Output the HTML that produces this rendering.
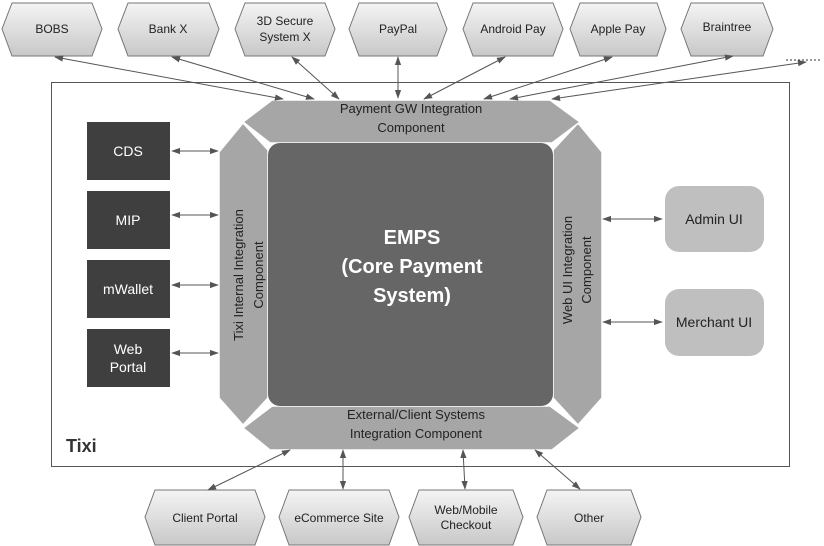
<!DOCTYPE html>
<html><head><meta charset="utf-8"><style>
body{margin:0;background:#fff;}
svg{display:block;font-family:"Liberation Sans",Calibri,sans-serif;}
</style></head><body>
<svg width="824" height="546" viewBox="0 0 824 546" xmlns="http://www.w3.org/2000/svg">
<defs>
<linearGradient id="g" x1="0" y1="0" x2="0" y2="1"><stop offset="0" stop-color="#f4f4f4"/><stop offset="1" stop-color="#c8c8c8"/></linearGradient>
<marker id="a" viewBox="0 0 10 10" refX="9" refY="5" markerWidth="9" markerHeight="9" orient="auto-start-reverse"><path d="M0,1.5 L10,5 L0,8.5 z" fill="#555"/></marker>
</defs>
<rect width="824" height="546" fill="#fff"/>
<rect x="51.5" y="82.5" width="738" height="384" fill="none" stroke="#555" stroke-width="1"/>
<g stroke="#777" stroke-width="1" fill="url(#g)">
<polygon points="12,3 92,3 102,29 92,56 12,56 2,29"/>
<polygon points="128,3 209,3 219,29 209,56 128,56 118,29"/>
<polygon points="245,3 325,3 335,29 325,56 245,56 235,29"/>
<polygon points="359,3 437,3 447,29 437,56 359,56 349,29"/>
<polygon points="473,3 553,3 563,29 553,56 473,56 463,29"/>
<polygon points="580,3 657,3 666,29 657,56 580,56 570,29"/>
<polygon points="691,3 763,3 773,29 763,56 691,56 681,29"/>
<polygon points="155,490 255,490 265,517 255,545 155,545 145,517"/>
<polygon points="289,490 389,490 399,517 389,545 289,545 279,517"/>
<polygon points="419,490 513,490 523,517 513,545 419,545 409,517"/>
<polygon points="547,490 631,490 641,517 631,545 547,545 537,517"/>
</g>
<g font-size="12" fill="#222" text-anchor="middle">
<text x="52" y="33">BOBS</text>
<text x="168" y="33">Bank X</text>
<text x="285" y="25">3D Secure</text><text x="285" y="41">System X</text>
<text x="398" y="33">PayPal</text>
<text x="513" y="33">Android Pay</text>
<text x="618" y="33">Apple Pay</text>
<text x="727" y="31">Braintree</text>
<text x="205" y="522">Client Portal</text>
<text x="339" y="522">eCommerce Site</text>
<text x="466" y="514">Web/Mobile</text><text x="466" y="529">Checkout</text>
<text x="589" y="522">Other</text>
</g>
<line x1="786" y1="60" x2="822" y2="60" stroke="#333" stroke-dasharray="2,2"/>
<g fill="#a6a6a6" stroke="#fff" stroke-width="1.5">
<polygon points="243,123 268,150 268,398 243,425 219,398 219,152"/>
<polygon points="578,123 602,152 602,398 578,425 553,398 553,150"/>
<polygon points="272,100 550,100 580,122 552,143 270,143 243,122"/>
<polygon points="272,406 550,406 580,428 552,450 270,450 243,428"/>
</g>
<rect x="268" y="143" width="285" height="263" rx="12" fill="#666"/>
<g font-size="13" fill="#222" text-anchor="middle">
<text x="411" y="113">Payment GW Integration</text><text x="411" y="132">Component</text>
<text x="416" y="419">External/Client Systems</text><text x="416" y="438">Integration Component</text>
<text transform="translate(243,275) rotate(-90)" x="0" y="0">Tixi Internal Integration</text>
<text transform="translate(263,275) rotate(-90)" x="0" y="0">Component</text>
<text transform="translate(572,270) rotate(-90)" x="0" y="0">Web UI Integration</text>
<text transform="translate(591,270) rotate(-90)" x="0" y="0">Component</text>
</g>
<g font-size="20" font-weight="bold" fill="#fff" text-anchor="middle">
<text x="412" y="244">EMPS</text><text x="412" y="273">(Core Payment</text><text x="412" y="302">System)</text>
</g>
<g fill="#3f3f3f">
<rect x="87" y="122" width="83" height="58"/><rect x="87" y="191" width="83" height="58"/>
<rect x="87" y="260" width="83" height="58"/><rect x="87" y="329" width="83" height="58"/>
</g>
<g font-size="14" fill="#fff" text-anchor="middle">
<text x="128" y="156">CDS</text><text x="128" y="225">MIP</text><text x="128" y="294">mWallet</text>
<text x="128" y="354">Web</text><text x="128" y="372">Portal</text>
</g>
<rect x="665" y="186" width="99" height="66" rx="14" fill="#bfbfbf"/>
<rect x="665" y="289" width="99" height="67" rx="14" fill="#bfbfbf"/>
<g font-size="14" fill="#222" text-anchor="middle"><text x="714" y="224">Admin UI</text><text x="714" y="327">Merchant UI</text></g>
<text x="66" y="452" font-size="18" font-weight="bold" fill="#333">Tixi</text>
<g stroke="#555" stroke-width="1" marker-start="url(#a)" marker-end="url(#a)" fill="none">
<line x1="55" y1="57" x2="283" y2="99"/>
<line x1="172" y1="57" x2="314" y2="99"/>
<line x1="292" y1="57" x2="339" y2="99"/>
<line x1="398" y1="57" x2="398" y2="98"/>
<line x1="505" y1="57" x2="424" y2="99"/>
<line x1="612" y1="57" x2="484" y2="99"/>
<line x1="733" y1="56" x2="510" y2="99"/>
<line x1="806" y1="62" x2="552" y2="99"/>
<line x1="172" y1="151" x2="218" y2="151"/>
<line x1="172" y1="215" x2="218" y2="215"/>
<line x1="172" y1="285" x2="218" y2="285"/>
<line x1="172" y1="353" x2="218" y2="353"/>
<line x1="603" y1="219" x2="662" y2="219"/>
<line x1="603" y1="322" x2="662" y2="322"/>
<line x1="290" y1="450" x2="208" y2="490"/>
<line x1="343" y1="450" x2="343" y2="489"/>
<line x1="463" y1="450" x2="465" y2="489"/>
<line x1="535" y1="450" x2="580" y2="489"/>
</g>
</svg>
</body></html>
